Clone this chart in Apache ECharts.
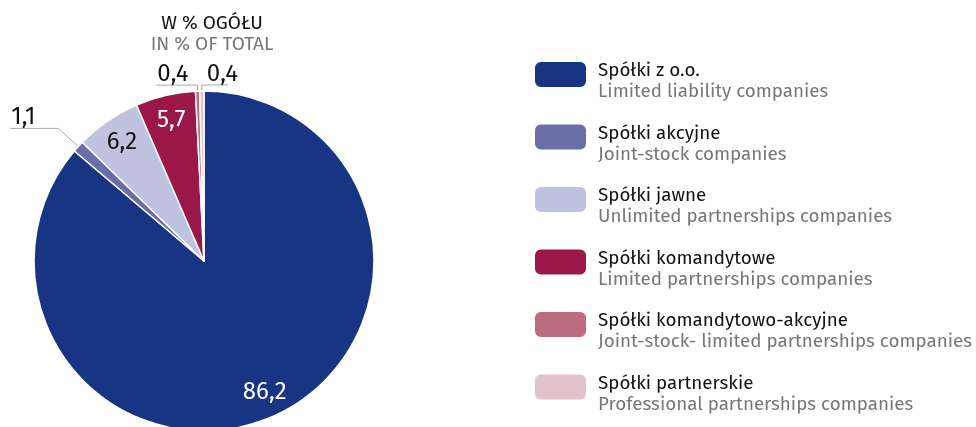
<!DOCTYPE html>
<html>
<head>
<meta charset="utf-8">
<script src="https://cdn.jsdelivr.net/npm/echarts@6/dist/echarts.min.js"></script>
<style>
  html, body { margin: 0; padding: 0; background: #fff; }
  #chart { width: 976px; height: 427px; }
</style>
</head>
<body>
<div id="chart"></div>
<script>
const names = ['Spółki z o.o.', 'Spółki akcyjne', 'Spółki jawne', 'Spółki komandytowe', 'Spółki komandytowo-akcyjne', 'Spółki partnerskie'];
const namesEn = ['Limited liability companies', 'Joint-stock companies', 'Unlimited partnerships companies', 'Limited partnerships companies', 'Joint-stock- limited partnerships companies', 'Professional partnerships companies'];
const shares = [86.2, 1.1, 6.2, 5.7, 0.4, 0.4];

const sliceColors = ['#183583', '#6a6ea8', '#c0c3df', '#9b1649', '#bd6b7f', '#e2c3cb'];
const labelColors = ['#fff', '#111', '#111', '#fff', '#111', '#111'];
const outside = [false, true, false, false, true, true];
const flipRight = [false, false, false, false, false, true];
const lineLen = [0, 27, 0, 0, 6, 6];
const lineLen2 = [0, 48, 0, 0, 41, 26];

const FONT = "'Fira Sans', 'Noto Sans', sans-serif";
const CENTER = [204, 261];
const RADIUS = 170;
const INSIDE_R = 0.85 * RADIUS;

document.addEventListener('DOMContentLoaded', () => {
    initPie();
});

function fmt(v) {
    return v.toFixed(1).replace('.', ',');
}

function initPie() {
    const container = document.getElementById('chart');
    const chart = echarts.init(container, null, { renderer: 'canvas' });

    const data = names.map((n, i) => ({
        name: n,
        value: shares[i],
        itemStyle: { color: sliceColors[i] },
        label: {
            position: outside[i] ? 'outside' : 'inside',
            color: labelColors[i]
        },
        labelLine: {
            show: outside[i],
            length: lineLen[i],
            length2: lineLen2[i],
            lineStyle: { color: '#aaa', width: 1 }
        }
    }));

    const option = {
        backgroundColor: '#fff',
        animation: false,
        title: {
            text: 'W % OGÓŁU',
            subtext: 'IN % OF TOTAL',
            left: 207,
            top: 9,
            textAlign: 'center',
            itemGap: 2,
            textStyle: { fontFamily: FONT, fontSize: 19, fontWeight: 'normal', color: '#111' },
            subtextStyle: { fontFamily: FONT, fontSize: 19, color: '#777' }
        },
        legend: {
            orient: 'vertical',
            left: 533,
            top: 60,
            height: 420,
            padding: 0,
            itemWidth: 53,
            itemHeight: 27,
            itemGap: 21,
            icon: 'roundRect',
            selectedMode: false,
            data: names,
            formatter: name => '{a|' + name + '}\n{b|' + namesEn[names.indexOf(name)] + '}',
            textStyle: {
                padding: [14, 0, 0, 6],
                rich: {
                    a: { fontFamily: FONT, fontSize: 18.8, color: '#111', lineHeight: 21 },
                    b: { fontFamily: FONT, fontSize: 18.8, color: '#777', lineHeight: 21 }
                }
            }
        },
        series: [{
            type: 'pie',
            center: CENTER,
            radius: RADIUS,
            startAngle: 90,
            clockwise: true,
            avoidLabelOverlap: false,
            itemStyle: { borderColor: '#fff', borderWidth: 1.5 },
            label: {
                fontFamily: FONT,
                fontSize: 24,
                formatter: p => fmt(p.value)
            },
            labelLayout: params => {
                const i = params.dataIndex;
                const pts = params.labelLinePoints;
                if (outside[i] && pts) {
                    const p0 = pts[0], p1 = pts[1], p2 = pts[2];
                    let end = p2;
                    let tx = p2[0] + 1;
                    if (flipRight[i]) {
                        end = [p1[0] + (p1[0] - p2[0]), p2[1]];
                        tx = p1[0] + 5;
                    }
                    return {
                        x: tx,
                        y: p1[1] + 1,
                        align: 'left',
                        verticalAlign: 'bottom',
                        labelLinePoints: [p0, p1, end]
                    };
                }
                const r = params.labelRect;
                const lx = r.x + r.width / 2 - CENTER[0];
                const ly = r.y + r.height / 2 - CENTER[1];
                const d = Math.sqrt(lx * lx + ly * ly) || 1;
                return {
                    x: CENTER[0] + lx / d * INSIDE_R,
                    y: CENTER[1] + ly / d * INSIDE_R,
                    align: 'center',
                    verticalAlign: 'middle'
                };
            },
            data: data
        }]
    };
    chart.setOption(option);
    window.addEventListener('resize', () => chart.resize());
}
</script>
</body>
</html>
